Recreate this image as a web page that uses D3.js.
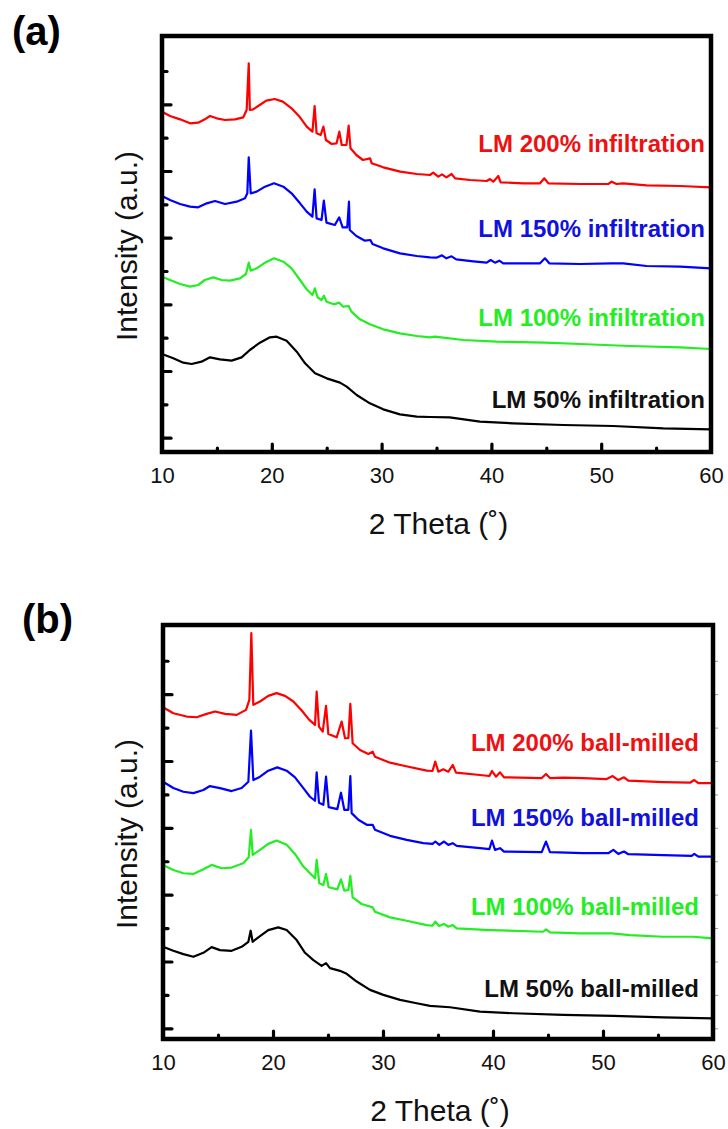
<!DOCTYPE html>
<html>
<head>
<meta charset="utf-8">
<script src="https://cdn.jsdelivr.net/npm/d3@7/dist/d3.min.js"></script>
<style>
  html, body { margin: 0; padding: 0; background: #fff; }
  svg { display: block; }
  text { font-family: "Liberation Sans", Arial, sans-serif; }
</style>
</head>
<body>
<svg id="chart" width="728" height="1129"></svg>
<script>
// ---------------- DATA ----------------
const xTickValues = [10, 20, 30, 40, 50, 60];
const xMinorTicks = [15, 25, 35, 45, 55];
const yMajorTicks = [0, 2, 4, 6, 8, 10];
const yMinorTicks = [1, 3, 5, 7, 9, 11];
const xAxisTitle = "2 Theta (\u02DA)";
const yAxisTitle = "Intensity (a.u.)";
const panelLetters = ["(a)", "(b)"];

// Panel (a): infiltration  [2theta, intensity (a.u.)]
const aRed = [[10,9.78],[10.73,9.65],[11.64,9.55],[12.55,9.43],[13.3,9.45],[13.9,9.55],[14.37,9.65],[14.98,9.58],[15.74,9.53],[16.65,9.55],[17.4,9.61],[17.71,9.83],[17.9,11.23],[18.0,9.83],[18.3,9.85],[18.9,9.98],[19.5,10.11],[20.27,10.16],[21.0,10.08],[21.8,9.88],[22.57,9.61],[23.18,9.33],[23.7,9.18],[23.9,9.95],[24.08,9.13],[24.45,9.08],[24.7,9.33],[24.93,8.93],[25.45,8.81],[25.9,8.83],[26.15,9.18],[26.37,8.78],[26.8,8.78],[27.0,9.36],[27.17,8.68],[27.7,8.48],[28.3,8.33],[28.95,8.38],[29.1,8.23],[30.15,8.11],[31.7,7.98],[33.2,7.91],[34.4,7.88],[34.7,7.95],[35.16,7.83],[35.5,7.9],[35.9,7.81],[36.37,7.91],[36.7,7.78],[38.05,7.73],[39.57,7.7],[39.87,7.76],[40.17,7.68],[40.63,7.85],[40.84,7.66],[42.9,7.63],[44.43,7.63],[44.82,7.78],[45.19,7.63],[48.07,7.61],[50.65,7.61],[50.95,7.68],[51.4,7.61],[52.0,7.63],[54.14,7.57],[57.18,7.55],[60,7.51]];
const aBlue = [[10,7.25],[10.73,7.13],[11.64,7.01],[12.55,6.93],[13.3,6.91],[14.07,7.03],[14.83,7.1],[15.74,7.01],[16.8,7.08],[17.56,7.18],[17.77,7.33],[17.9,8.41],[18.08,7.33],[18.62,7.38],[19.38,7.53],[20.2,7.63],[21.05,7.53],[21.8,7.33],[22.57,7.03],[23.18,6.78],[23.7,6.63],[23.9,7.45],[24.08,6.58],[24.53,6.53],[24.74,7.11],[24.98,6.45],[25.74,6.38],[26.14,6.61],[26.45,6.31],[26.87,6.31],[27.03,7.08],[27.1,6.23],[27.7,6.05],[28.48,5.91],[28.98,5.93],[29.17,5.81],[30.15,5.68],[31.67,5.53],[33.2,5.45],[34.4,5.41],[35.0,5.4],[35.5,5.47],[35.9,5.38],[36.37,5.44],[36.8,5.35],[38.35,5.29],[39.57,5.25],[39.93,5.33],[40.33,5.25],[40.72,5.31],[41.08,5.23],[44.43,5.23],[44.88,5.38],[45.27,5.23],[48.07,5.21],[50.95,5.23],[52.0,5.23],[54.14,5.15],[57.18,5.13],[60,5.08]];
const aGreen = [[10,4.83],[10.73,4.73],[11.64,4.61],[12.55,4.53],[13.3,4.58],[13.9,4.73],[14.67,4.81],[15.43,4.73],[16.2,4.71],[17.1,4.78],[17.65,4.91],[17.9,5.25],[18.08,5.01],[18.62,5.08],[19.38,5.25],[20.2,5.38],[21.05,5.28],[21.8,5.08],[22.57,4.73],[23.18,4.45],[23.7,4.28],[23.92,4.48],[24.17,4.21],[24.53,4.13],[24.74,4.26],[24.98,4.08],[25.65,4.0],[26.14,4.05],[26.5,3.93],[27.0,3.95],[27.26,3.78],[28.02,3.55],[28.93,3.4],[30.15,3.25],[31.67,3.13],[33.2,3.05],[34.4,3.01],[34.86,3.03],[37.44,2.93],[40.48,2.88],[44.88,2.85],[48.07,2.81],[52.6,2.75],[57.18,2.71],[60,2.66]];
const aBlack = [[10,2.51],[11.03,2.38],[11.94,2.25],[12.7,2.21],[13.6,2.28],[14.37,2.41],[15.28,2.35],[16.34,2.31],[17.25,2.41],[18.0,2.63],[18.92,2.85],[19.83,3.01],[20.44,3.03],[21.35,2.91],[22.27,2.58],[23.03,2.23],[23.94,1.93],[25.0,1.78],[26.21,1.65],[26.82,1.53],[27.73,1.28],[28.93,1.03],[30.15,0.85],[31.67,0.7],[33.2,0.63],[34.4,0.62],[36.2,0.61],[38.96,0.48],[42.0,0.43],[46.55,0.38],[51.1,0.35],[55.65,0.28],[60,0.25]];

// Panel (b): ball-milled
const bRed = [[10,9.61],[10.94,9.43],[12.15,9.33],[13.06,9.31],[13.97,9.41],[14.73,9.48],[15.64,9.41],[16.7,9.38],[17.55,9.53],[17.85,9.83],[18.03,11.83],[18.21,9.68],[18.82,9.78],[19.57,9.95],[20.33,10.03],[21.09,9.95],[21.85,9.78],[22.61,9.51],[23.3,9.23],[23.82,9.08],[23.97,10.08],[24.18,9.03],[24.52,8.88],[24.82,9.65],[25.03,8.81],[25.79,8.71],[26.24,9.18],[26.55,8.68],[26.85,8.68],[27.03,9.71],[27.24,8.53],[27.91,8.33],[28.67,8.21],[29.06,8.28],[29.27,8.13],[30.64,7.95],[32.0,7.85],[33.97,7.71],[34.5,7.7],[34.75,7.98],[35.03,7.68],[35.48,7.75],[35.94,7.68],[36.34,7.88],[36.64,7.65],[38.82,7.58],[39.67,7.55],[39.91,7.7],[40.27,7.53],[40.64,7.66],[41.0,7.51],[44.43,7.49],[44.82,7.61],[45.18,7.49],[46.39,7.5],[48.21,7.49],[50.33,7.46],[50.88,7.55],[51.39,7.43],[51.91,7.51],[52.3,7.41],[55.48,7.37],[57.91,7.35],[58.3,7.43],[58.67,7.34],[60,7.34]];
const bBlue = [[10,7.38],[10.94,7.19],[11.85,7.08],[12.76,7.04],[13.67,7.13],[14.27,7.25],[15.18,7.19],[16.24,7.1],[17.15,7.19],[17.76,7.38],[18.0,8.91],[18.21,7.43],[18.82,7.53],[19.57,7.71],[20.39,7.81],[21.24,7.71],[22.0,7.51],[22.76,7.19],[23.36,6.93],[23.82,6.81],[23.97,7.66],[24.18,6.75],[24.58,6.69],[24.82,7.53],[25.06,6.62],[25.85,6.56],[26.18,7.05],[26.48,6.54],[26.85,6.54],[27.03,7.55],[27.15,6.44],[27.76,6.24],[28.52,6.09],[29.06,6.09],[29.27,5.94],[30.64,5.76],[32.15,5.64],[33.67,5.54],[34.5,5.52],[34.76,5.59],[35.12,5.49],[35.55,5.59],[35.94,5.49],[36.34,5.54],[36.7,5.46],[38.82,5.39],[39.67,5.36],[39.91,5.62],[40.18,5.34],[40.64,5.39],[41.0,5.29],[44.43,5.27],[44.82,5.59],[45.18,5.27],[48.21,5.24],[50.48,5.24],[50.94,5.34],[51.39,5.22],[51.91,5.29],[52.3,5.21],[55.48,5.18],[58.06,5.16],[58.3,5.22],[58.67,5.14],[60,5.14]];
const bGreen = [[10,4.89],[10.94,4.74],[11.85,4.64],[12.76,4.62],[13.67,4.76],[14.42,4.89],[15.33,4.79],[16.24,4.81],[17.3,4.94],[17.79,5.12],[18.0,5.94],[18.15,5.19],[18.82,5.34],[19.57,5.52],[20.33,5.62],[21.24,5.49],[22.0,5.22],[22.76,4.84],[23.52,4.59],[23.82,4.49],[23.97,5.04],[24.21,4.34],[24.58,4.29],[24.82,4.62],[25.06,4.22],[25.85,4.16],[26.18,4.46],[26.48,4.12],[26.85,4.14],[27.03,4.56],[27.24,3.92],[28.06,3.72],[29.06,3.62],[29.27,3.49],[30.64,3.32],[32.15,3.22],[33.97,3.09],[34.5,3.07],[34.76,3.19],[35.1,3.06],[35.55,3.12],[35.94,3.04],[36.34,3.09],[36.7,2.99],[39.73,2.94],[44.55,2.89],[44.82,2.96],[45.18,2.87],[47.91,2.84],[50.79,2.84],[52.45,2.79],[55.48,2.74],[58.21,2.74],[60,2.69]];
const bBlack = [[10,2.44],[10.94,2.32],[11.85,2.22],[12.76,2.14],[13.67,2.26],[14.42,2.43],[15.18,2.34],[16.24,2.32],[17.15,2.44],[17.76,2.59],[17.97,2.92],[18.15,2.59],[18.82,2.76],[19.57,2.94],[20.48,3.02],[21.24,2.94],[22.15,2.64],[22.91,2.26],[23.67,2.04],[24.42,1.87],[24.82,1.95],[25.18,1.8],[26.09,1.72],[26.7,1.63],[27.61,1.4],[28.82,1.15],[30.03,1.0],[31.55,0.85],[33.06,0.75],[34.27,0.67],[36.09,0.63],[38.82,0.5],[41.85,0.45],[46.39,0.4],[50.94,0.37],[55.48,0.33],[60,0.3]];

const seriesNamesA = ["LM 200% infiltration", "LM 150% infiltration", "LM 100% infiltration", "LM 50% infiltration"];
const seriesNamesB = ["LM 200% ball-milled", "LM 150% ball-milled", "LM 100% ball-milled", "LM 50% ball-milled"];
const seriesColors = ["#ff0000", "#0000ff", "#22ee22", "#000000"];
const labelColors = ["#ee1111", "#1111dd", "#22ee22", "#111111"];
// vertical position of each name, in intensity units
const labelLevelsA = [8.58, 6.03, 3.35, 0.88];
const labelLevelsB = [8.3, 6.05, 3.39, 0.95];

// ---------------- DRAWING ----------------
const svg = d3.select("#chart");

const panels = [
  { letter: panelLetters[0], left: 162, right: 711, top: 36, bottom: 452, yDomain: [-0.43, 12.05],
    series: [aRed, aBlue, aGreen, aBlack], names: seriesNamesA, levels: labelLevelsA, labelRight: 705,
    letterX: 12, letterY: 45, rightTicks: false },
  { letter: panelLetters[1], left: 163, right: 713, top: 625, bottom: 1039, yDomain: [-0.32, 12.07],
    series: [bRed, bBlue, bGreen, bBlack], names: seriesNamesB, levels: labelLevelsB, labelRight: 699,
    letterX: 22, letterY: 633, rightTicks: true }
];

panels.forEach(p => {
  const x = d3.scaleLinear().domain([10, 60]).range([p.left, p.right]);
  const y = d3.scaleLinear().domain(p.yDomain).range([p.bottom, p.top]);
  const g = svg.append("g");

  // curves
  const line = d3.line().x(d => x(d[0])).y(d => y(d[1])).curve(d3.curveLinear);
  p.series.forEach((s, i) => {
    g.append("path").datum(s)
      .attr("d", line)
      .attr("fill", "none")
      .attr("stroke", seriesColors[i])
      .attr("stroke-width", 2.2)
      .attr("stroke-linejoin", "round");
  });

  // series names
  p.names.forEach((n, i) => {
    g.append("text")
      .attr("x", p.labelRight)
      .attr("y", y(p.levels[i]))
      .attr("text-anchor", "end")
      .attr("font-weight", "bold")
      .attr("font-size", 24)
      .attr("fill", labelColors[i])
      .text(n);
  });

  // inward ticks on left axis
  const yAxisMajor = d3.axisLeft(y).tickValues(yMajorTicks).tickSize(-9).tickFormat("");
  const yAxisMinor = d3.axisLeft(y).tickValues(yMinorTicks).tickSize(-5).tickFormat("");
  [yAxisMajor, yAxisMinor].forEach(ax => {
    const a = g.append("g").attr("transform", `translate(${p.left},0)`).call(ax);
    a.select(".domain").remove();
    a.selectAll("line").attr("stroke", "#000").attr("stroke-width", 3.2).attr("stroke-linecap", "round");
  });

  // inward ticks on bottom axis
  const xAxisMajor = d3.axisBottom(x).tickValues([20, 30, 40, 50]).tickSize(-8).tickFormat("");
  const xAxisMinor = d3.axisBottom(x).tickValues(xMinorTicks).tickSize(-4).tickFormat("");
  [xAxisMajor, xAxisMinor].forEach(ax => {
    const a = g.append("g").attr("transform", `translate(0,${p.bottom})`).call(ax);
    a.select(".domain").remove();
    a.selectAll("line").attr("stroke", "#000").attr("stroke-width", 3.2).attr("stroke-linecap", "round");
  });

  // faint outer ticks on right axis (panel b)
  if (p.rightTicks) {
    const yr = d3.axisRight(y).tickValues(yMajorTicks.concat(yMinorTicks)).tickSize(5).tickFormat("");
    const a = g.append("g").attr("transform", `translate(${p.right},0)`).call(yr);
    a.select(".domain").remove();
    a.selectAll("line").attr("stroke", "#999").attr("stroke-width", 1);
  }

  // frame
  g.append("rect")
    .attr("x", p.left).attr("y", p.top)
    .attr("width", p.right - p.left).attr("height", p.bottom - p.top)
    .attr("fill", "none").attr("stroke", "#000").attr("stroke-width", 4.5);

  // x tick labels
  const xLab = d3.axisBottom(x).tickValues(xTickValues).tickSize(0).tickPadding(0);
  const xl = g.append("g").attr("transform", `translate(0,${p.bottom})`).call(xLab);
  xl.select(".domain").remove();
  xl.selectAll("text")
    .attr("dy", null).attr("y", 31)
    .attr("font-size", 22).attr("fill", "#111")
    .style("font-family", '"Liberation Sans", Arial, sans-serif');

  // x title
  g.append("text")
    .attr("x", (p.left + p.right) / 2 + 2)
    .attr("y", p.bottom + 82)
    .attr("text-anchor", "middle")
    .attr("font-size", 30).attr("fill", "#111")
    .text(xAxisTitle);

  // y title
  const cy = (p.top + p.bottom) / 2 + 2;
  g.append("text")
    .attr("transform", `translate(137,${cy}) rotate(-90)`)
    .attr("text-anchor", "middle")
    .attr("font-size", 30).attr("fill", "#111")
    .text(yAxisTitle);

  // panel letter
  g.append("text")
    .attr("x", p.letterX).attr("y", p.letterY)
    .attr("font-weight", "bold").attr("font-size", 40).attr("fill", "#000")
    .text(p.letter);
});
</script>
</body>
</html>
